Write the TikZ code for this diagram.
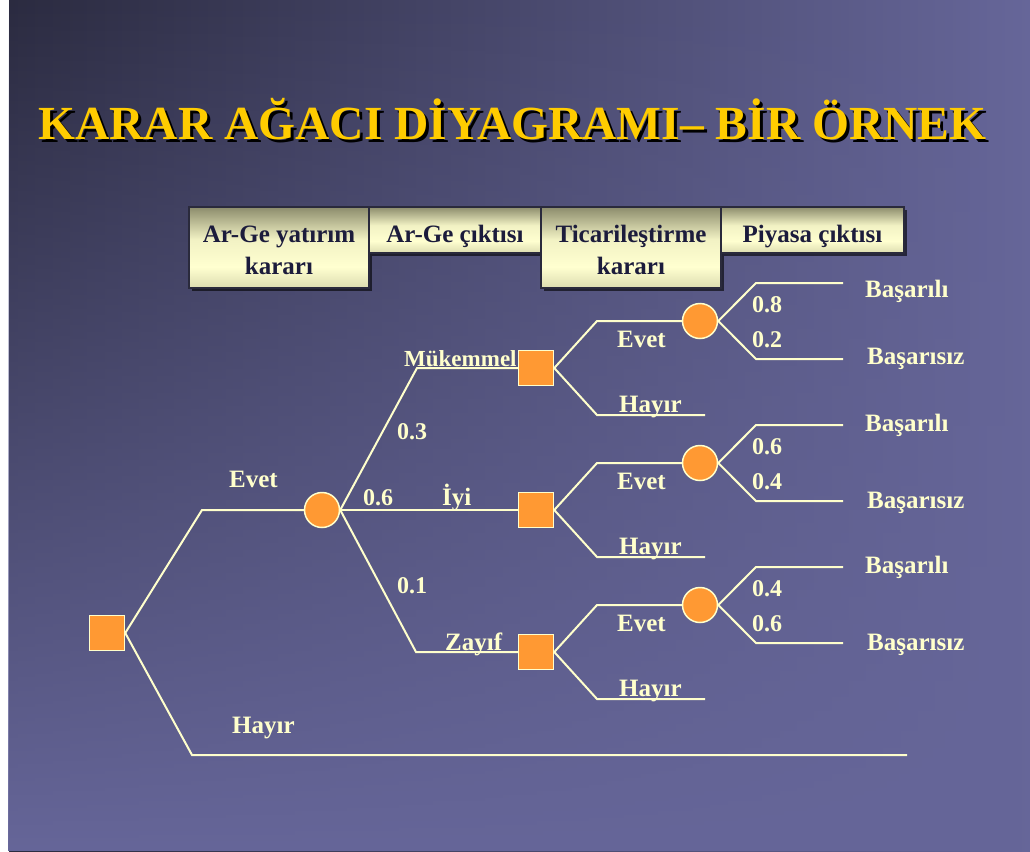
\documentclass[tikz,border=0pt]{standalone}
\usepackage{fontspec}
\setmainfont{Liberation Serif}
\usetikzlibrary{fadings,shadows}
\definecolor{bgdark}{HTML}{2B2B40}
\definecolor{bglight}{HTML}{666699}
\definecolor{cream}{HTML}{FFFFCC}
\definecolor{orng}{HTML}{FF9933}
\definecolor{gold}{HTML}{FFCC00}
\definecolor{navy}{HTML}{1C1C3C}
\definecolor{bxtop}{HTML}{8C8C6C}
\definecolor{bxlight}{HTML}{FFFFD0}
\definecolor{bxmid}{HTML}{F2F2C4}
\definecolor{bxbot}{HTML}{DCDCB0}
\definecolor{bxline}{HTML}{2A2A3C}
\pgfdeclareverticalshading{boxshade}{100bp}{color(0bp)=(bxbot); color(25bp)=(bxbot); color(38bp)=(bxlight); color(55bp)=(bxmid); color(75bp)=(bxtop); color(100bp)=(bxtop)}
\newcommand{\ttltext}{KARAR AĞACI DİYAGRAMI– BİR ÖRNEK}
\tikzset{
  ln/.style={draw=cream, line width=2pt},
  sq/.style={rectangle, fill=orng, draw=cream, line width=1.5pt, minimum size=35pt, inner sep=0pt},
  ch/.style={circle, fill=orng, draw=cream, line width=1.5pt, minimum size=35pt, inner sep=0pt},
  lbl/.style={anchor=base west, inner sep=0pt, text=cream, font=\fontsize{25}{30}\selectfont\bfseries},
  num/.style={lbl, font=\fontsize{24}{30}\selectfont\bfseries},
  hdr/.style={draw=bxline, line width=1.5pt, shade, shading=boxshade, inner sep=0pt,
    drop shadow={shadow xshift=3pt, shadow yshift=-3pt, fill=black, opacity=0.6}},
  hdrtxt/.style={anchor=base, inner sep=0pt, text=navy, font=\fontsize{25}{32}\selectfont\bfseries},
  ttl/.style={anchor=base west, inner sep=0pt, font=\fontsize{47.5}{50}\selectfont\bfseries}
}
\begin{document}
\begin{tikzpicture}[x=1pt, y=-1pt]
\useasboundingbox (0,0) rectangle (1030,851);
% background
\fill[white] (0,0) rectangle (1030,851);
\shade[left color=bgdark, right color=bglight] (9,0) rectangle (1030,851);
\fill[bglight, path fading=north] (9,0) rectangle (1030,851);
% title (with shadow)
\node[ttl, text=gold] (title) at (38,139) {\makebox[0pt][l]{\hspace{3pt}\raisebox{-3pt}{\textcolor{black}{\ttltext}}}\ttltext};
% header boxes
\node[hdr, minimum width=180pt, minimum height=81pt] (h1) at (279,247.5) {};
\node[hdr, minimum width=172pt, minimum height=46pt] (h2) at (455,230) {};
\node[hdr, minimum width=180pt, minimum height=81pt] (h3) at (631,247.5) {};
\node[hdr, minimum width=183pt, minimum height=46pt] (h4) at (812.5,230) {};
\node[hdrtxt] (h1a) at (279,242) {Ar-Ge yatırım};
\node[hdrtxt] (h1b) at (279,274) {kararı};
\node[hdrtxt] (h2a) at (455,242) {Ar-Ge çıktısı};
\node[hdrtxt] (h3a) at (631,242) {Ticarileştirme};
\node[hdrtxt] (h3b) at (631,274) {kararı};
\node[hdrtxt] (h4a) at (812.5,242) {Piyasa çıktısı};
% tree nodes
\node[sq] (root) at (107,633) {};
\node[ch] (c0) at (322,510) {};
\node[sq] (d1) at (536,368) {};
\node[sq] (d2) at (536,510) {};
\node[sq] (d3) at (536,652) {};
\node[ch] (c1) at (700,321) {};
\node[ch] (c2) at (700,463) {};
\node[ch] (c3) at (700,605) {};
% bend points
\coordinate (pe) at (202,510);
\coordinate (ph) at (192,755);
\coordinate (phe) at (907,755);
\coordinate (pm) at (417,368);
\coordinate (pz) at (416,652);
\foreach \i/\yc in {1/368,2/510,3/652}{
  \coordinate (u\i) at (597,\yc-47);
  \coordinate (l\i) at (597,\yc+47);
  \coordinate (le\i) at (705,\yc+47);
  \coordinate (s\i) at (756,\yc-85);
  \coordinate (se\i) at (843,\yc-85);
  \coordinate (f\i) at (756,\yc-9);
  \coordinate (fe\i) at (843,\yc-9);
}
% connectors
\draw[ln] (root.east) -- (pe) -- (c0.west);
\draw[ln] (root.east) -- (ph) -- (phe);
\draw[ln] (c0.east) -- (pm) -- (d1.west);
\draw[ln] (c0.east) -- (d2.west);
\draw[ln] (c0.east) -- (pz) -- (d3.west);
\foreach \i in {1,2,3}{
  \draw[ln] (d\i.east) -- (u\i) -- (c\i.west);
  \draw[ln] (d\i.east) -- (l\i) -- (le\i);
  \draw[ln] (c\i.east) -- (s\i) -- (se\i);
  \draw[ln] (c\i.east) -- (f\i) -- (fe\i);
}
% labels
\node[lbl] (tevet) at (229,487) {Evet};
\node[lbl] (thayir) at (232,733) {Hayır};
\node[num] (t03) at (397,439) {0.3};
\node[lbl, font=\fontsize{23}{28}\selectfont\bfseries] (tmuk) at (404,366) {Mükemmel};
\node[num] (t06) at (363,505) {0.6};
\node[lbl] (tiyi) at (442,505) {İyi};
\node[num] (t01) at (397,593) {0.1};
\node[lbl] (tzayif) at (445,650) {Zayıf};
\foreach \i/\yc/\pa/\pb/\ya/\yb in {1/368/0.8/0.2/297/364, 2/510/0.6/0.4/431/508, 3/652/0.4/0.6/573/650}{
  \node[lbl] (ev\i) at (617,\yc-21) {Evet};
  \node[lbl] (ha\i) at (619,\yc+44) {Hayır};
  \node[num] (pa\i) at (752,\yc-56) {\pa};
  \node[num] (pb\i) at (752,\yc-21) {\pb};
  \node[lbl] (ba\i) at (865,\ya) {Başarılı};
  \node[lbl] (bs\i) at (867,\yb) {Başarısız};
}
\end{tikzpicture}
\end{document}
